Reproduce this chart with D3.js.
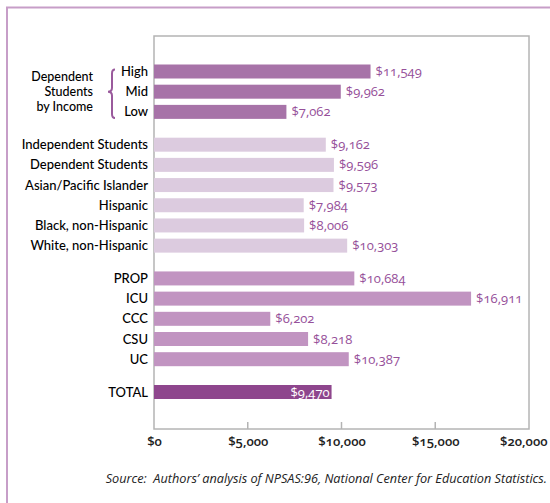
<!DOCTYPE html>
<html>
<head>
<meta charset="utf-8">
<script src="https://cdn.jsdelivr.net/npm/d3@7/dist/d3.min.js"></script>
<style>
  html, body { margin: 0; padding: 0; background: #fff; }
  svg { display: block; }
  text { font-family: "Open Sans", "Noto Sans", sans-serif; }
  .num { font-feature-settings: "onum" 1; }
  .lab { font-family: Lato, "Open Sans", sans-serif; }
  .src { white-space: pre; }
</style>
</head>
<body>
<svg id="chart" width="550" height="503"></svg>
<script>
// ---- data ----
const incomeCats = ["High", "Mid", "Low"];
const incomeVals = [11549, 9962, 7062];
const groupCats = ["Independent Students", "Dependent Students", "Asian/Pacific Islander", "Hispanic", "Black, non-Hispanic", "White, non-Hispanic"];
const groupVals = [9162, 9596, 9573, 7984, 8006, 10303];
const segmentCats = ["PROP", "ICU", "CCC", "CSU", "UC"];
const segmentVals = [10684, 16911, 6202, 8218, 10387];
const totalCats = ["TOTAL"];
const totalVals = [9470];
const xTicks = [0, 5000, 10000, 15000, 20000];
const braceLabel = ["Dependent", "Students", "by Income"];
const sourceText = "Source:  Authors\u2019 analysis of NPSAS:96, National Center for Education Statistics.";

const groupColors = ["#a773a8", "#dccbdf", "#c194c1", "#8e468d"];

const groups = [
  { cats: incomeCats, vals: incomeVals },
  { cats: groupCats, vals: groupVals },
  { cats: segmentCats, vals: segmentVals },
  { cats: totalCats, vals: totalVals }
];

const rows = [];
let idx = 0;
groups.forEach((g, gi) => {
  g.cats.forEach((c, i) => {
    rows.push({ cat: c, val: g.vals[i], group: gi, slot: idx + gi * 0.625 });
    idx++;
  });
});
const maxSlot = d3.max(rows, d => d.slot);

const svg = d3.select("#chart");

// outer frame (left & top)
svg.append("path")
  .attr("d", "M7,503 V7.5 H550")
  .attr("fill", "none")
  .attr("stroke", "#c79ec8")
  .attr("stroke-width", 2);

const plot = { left: 154, right: 529, top: 36, bottom: 429 };
const barH = 14;

const x = d3.scaleLinear().domain([0, 20000]).range([plot.left, plot.right]);
const y = d3.scaleLinear().domain([0, maxSlot]).range([64.5, 385]);

// plot frame
svg.append("rect")
  .attr("x", plot.left).attr("y", plot.top)
  .attr("width", plot.right - plot.left).attr("height", plot.bottom - plot.top)
  .attr("fill", "none").attr("stroke", "#b4b4b4").attr("stroke-width", 1.5);

// x axis
const xAxis = d3.axisBottom(x).tickValues(xTicks).tickSize(0).tickPadding(8)
  .tickFormat(d => "$" + d3.format(",")(d));
const gx = svg.append("g").attr("transform", `translate(0,${plot.bottom})`).call(xAxis);
gx.select(".domain").remove();
gx.selectAll("text")
  .attr("class", "num")
  .style("font-size", "13px")
  .style("font-weight", "600")
  .attr("fill", "#222");
// keep last tick label inside the picture
gx.selectAll(".tick").filter(d => d === xTicks[xTicks.length - 1]).select("text")
  .attr("text-anchor", "end").attr("x", 547 - x(xTicks[xTicks.length - 1]));
// inward ticks
svg.append("g").selectAll("line").data(xTicks.slice(1, -1)).join("line")
  .attr("x1", d => x(d)).attr("x2", d => x(d))
  .attr("y1", plot.bottom).attr("y2", plot.bottom - 7)
  .attr("stroke", "#b4b4b4").attr("stroke-width", 1.5);

// bars
svg.append("g").selectAll("rect").data(rows).join("rect")
  .attr("x", x(0))
  .attr("y", d => y(d.slot))
  .attr("width", d => x(d.val) - x(0))
  .attr("height", barH)
  .attr("fill", d => groupColors[d.group]);

// category labels
svg.append("g").selectAll("text").data(rows).join("text")
  .attr("class", "lab")
  .attr("x", plot.left - 6)
  .attr("y", d => y(d.slot) + barH / 2)
  .attr("dy", "0.35em")
  .attr("text-anchor", "end")
  .style("font-size", "13px")
  .style("font-weight", "500")
  .attr("fill", "#000")
  .text(d => d.cat);

// value labels
const fmt = d => "$" + d3.format(",")(d);
svg.append("g").selectAll("text").data(rows).join("text")
  .attr("class", "num")
  .attr("x", d => d.group === 3 ? x(d.val) - 2 : x(d.val) + 5)
  .attr("y", d => y(d.slot) + barH / 2)
  .attr("dy", "0.35em")
  .attr("text-anchor", d => d.group === 3 ? "end" : "start")
  .style("font-size", "13px")
  .attr("fill", d => d.group === 3 ? "#fff" : "#96509a")
  .text(d => fmt(d.val));

// brace
const bTop = y(0) + 5, bBot = y(2) + barH - 1, bMid = y(1) + barH / 2, bx = 112;
svg.append("path")
  .attr("d", `M${bx + 3},${bTop} Q${bx},${bTop} ${bx},${bTop + 4} V${bMid - 4} Q${bx},${bMid} ${bx - 4},${bMid} Q${bx},${bMid} ${bx},${bMid + 4} V${bBot - 4} Q${bx},${bBot} ${bx + 3},${bBot}`)
  .attr("fill", "none").attr("stroke", "#9a5a9c").attr("stroke-width", 2);

svg.append("g").selectAll("text").data(braceLabel).join("text")
  .attr("class", "lab")
  .attr("x", 93)
  .attr("y", (d, i) => bMid - 0.5 + (i - 1) * 15)
  .attr("dy", "0.35em")
  .attr("text-anchor", "end")
  .style("font-size", "12.5px")
  .style("font-weight", "500")
  .attr("fill", "#000")
  .text(d => d);

// source
svg.append("text")
  .attr("class", "src")
  .attr("x", 547).attr("y", 479).attr("dy", "0.35em")
  .attr("text-anchor", "end")
  .style("font-size", "12.7px")
  .style("font-style", "italic")
  .attr("fill", "#222")
  .text(sourceText);
</script>
</body>
</html>
